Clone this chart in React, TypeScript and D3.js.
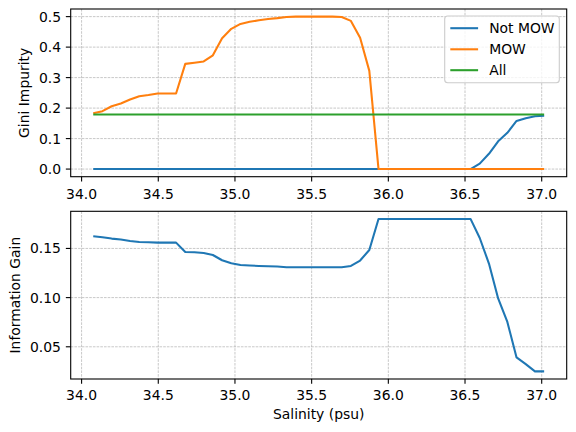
import React from "react";
import * as d3 from "d3";

const salinity = [
  34.076, 34.136, 34.196, 34.256, 34.316, 34.376, 34.436, 34.496, 34.556, 34.616,
  34.676, 34.736, 34.796, 34.856, 34.916, 34.976, 35.036, 35.096, 35.156, 35.216,
  35.276, 35.336, 35.396, 35.456, 35.516, 35.576, 35.636, 35.696, 35.756, 35.816,
  35.876, 35.936, 35.996, 36.056, 36.116, 36.176, 36.236, 36.296, 36.356, 36.416,
  36.476, 36.536, 36.596, 36.656, 36.716, 36.776, 36.836, 36.896, 36.956, 37.016,
];

const giniNotMOW = [
  0, 0, 0, 0, 0, 0, 0, 0, 0, 0,
  0, 0, 0, 0, 0, 0, 0, 0, 0, 0,
  0, 0, 0, 0, 0, 0, 0, 0, 0, 0,
  0, 0, 0, 0, 0, 0, 0, 0, 0, 0,
  0, 0, 0.018, 0.05, 0.091, 0.119, 0.158, 0.167, 0.173, 0.175,
];

const giniMOW = [
  0.183, 0.19, 0.206, 0.215, 0.228, 0.239, 0.243, 0.248, 0.248, 0.248,
  0.345, 0.349, 0.353, 0.373, 0.429, 0.46, 0.476, 0.483, 0.488, 0.492,
  0.495, 0.499, 0.5, 0.5, 0.5, 0.5, 0.5, 0.499, 0.486, 0.431,
  0.322, 0, 0, 0, 0, 0, 0, 0, 0, 0,
  0, 0, 0, 0, 0, 0, 0, 0, 0, 0,
];

const giniAll = 0.179;

const infoGain = [
  0.1623, 0.1613, 0.16, 0.159, 0.1576, 0.1565, 0.1562, 0.1559, 0.1559, 0.1559,
  0.1464, 0.1461, 0.1454, 0.1433, 0.138, 0.1349, 0.1332, 0.1326, 0.1322, 0.1319,
  0.1316, 0.1309, 0.1309, 0.1309, 0.1309, 0.1309, 0.1309, 0.1309, 0.1322, 0.1377,
  0.1484, 0.18, 0.18, 0.18, 0.18, 0.18, 0.18, 0.18, 0.18, 0.18,
  0.18, 0.18, 0.1606, 0.1346, 0.0991, 0.0753, 0.0392, 0.0324, 0.025, 0.025,
];

const xTicks = [34.0, 34.5, 35.0, 35.5, 36.0, 36.5, 37.0];
const topYTicks = [0.0, 0.1, 0.2, 0.3, 0.4, 0.5];
const bottomYTicks = [0.05, 0.1, 0.15];
const legendLabels = ["Not MOW", "MOW", "All"];
const colors = ["#1f77b4", "#ff7f0e", "#2ca02c"];

const W = 576;
const H = 432;
const LEFT = 70.7;
const RIGHT = 566.7;
const TOP1 = 9;
const BOT1 = 176.7;
const TOP2 = 211.3;
const BOT2 = 379;
const FONT = "DejaVu Sans, sans-serif";
const FS = 13.9;
const LW = 2.08;
const TICK = 4.86;

function padDomain(lo: number, hi: number): [number, number] {
  const m = (hi - lo) * 0.05;
  return [lo - m, hi + m];
}

function Panel(props: {
  id: string;
  top: number;
  bottom: number;
  labelBase: number;
  yScale: d3.ScaleLinear<number, number>;
  x: d3.ScaleLinear<number, number>;
  yTicks: number[];
  yFmt: (v: number) => string;
  children?: React.ReactNode;
}) {
  const { id, top, bottom, labelBase, yScale, x, yTicks, yFmt } = props;
  return (
    <g>
      {xTicks.map((t) => (
        <line key={"gx" + t} x1={x(t)} x2={x(t)} y1={top} y2={bottom}
          stroke="#b0b0b0" strokeWidth={0.7} strokeDasharray="2.6,1.1" />
      ))}
      {yTicks.map((t) => (
        <line key={"gy" + t} x1={LEFT} x2={RIGHT} y1={yScale(t)} y2={yScale(t)}
          stroke="#b0b0b0" strokeWidth={0.7} strokeDasharray="2.6,1.1" />
      ))}
      <clipPath id={id}>
        <rect x={LEFT} y={top} width={RIGHT - LEFT} height={bottom - top} />
      </clipPath>
      <g clipPath={`url(#${id})`}>{props.children}</g>
      <rect x={LEFT} y={top} width={RIGHT - LEFT} height={bottom - top}
        fill="none" stroke="#000" strokeWidth={1.1} />
      {xTicks.map((t) => (
        <g key={"tx" + t}>
          <line x1={x(t)} x2={x(t)} y1={bottom} y2={bottom + TICK} stroke="#000" strokeWidth={1.1} />
          <text x={x(t)} y={labelBase} textAnchor="middle" fontFamily={FONT} fontSize={FS} fill="#000">
            {t.toFixed(1)}
          </text>
        </g>
      ))}
      {yTicks.map((t) => (
        <g key={"ty" + t}>
          <line x1={LEFT - TICK} x2={LEFT} y1={yScale(t)} y2={yScale(t)} stroke="#000" strokeWidth={1.1} />
          <text x={LEFT - 2 * TICK} y={yScale(t)} dy="0.36em" textAnchor="end" fontFamily={FONT} fontSize={FS} fill="#000">
            {yFmt(t)}
          </text>
        </g>
      ))}
    </g>
  );
}

export default function App() {
  const xDom = padDomain(d3.min(salinity)!, d3.max(salinity)!);
  const x = d3.scaleLinear().domain(xDom).range([LEFT, RIGHT]);

  const topMin = Math.min(d3.min(giniNotMOW)!, d3.min(giniMOW)!, giniAll);
  const topMax = Math.max(d3.max(giniNotMOW)!, d3.max(giniMOW)!, giniAll);
  const y1 = d3.scaleLinear().domain(padDomain(topMin, topMax)).range([BOT1, TOP1]);
  const y2 = d3.scaleLinear().domain(padDomain(d3.min(infoGain)!, d3.max(infoGain)!)).range([BOT2, TOP2]);

  const line1 = d3.line<number>().x((_, i) => x(salinity[i])).y((d) => y1(d));
  const line2 = d3.line<number>().x((_, i) => x(salinity[i])).y((d) => y2(d));

  const xFirst = salinity[0];
  const xLast = salinity[salinity.length - 1];

  const lgX = 444.7;
  const lgY = 16;
  const lgW = 114.6;
  const lgH = 66.7;
  const rowY = [28.2, 49.3, 70.2];

  return (
    <svg width={W} height={H} style={{ position: "absolute", left: 0, top: 0, background: "#fff" }}>
      <rect x={0} y={0} width={W} height={H} fill="#fff" />
      <Panel id="clipTop" top={TOP1} bottom={BOT1} labelBase={199.3} yScale={y1} x={x} yTicks={topYTicks} yFmt={(v) => v.toFixed(1)}>
        <path d={line1(giniNotMOW)!} fill="none" stroke={colors[0]} strokeWidth={LW} strokeLinejoin="round" />
        <path d={line1(giniMOW)!} fill="none" stroke={colors[1]} strokeWidth={LW} strokeLinejoin="round" />
        <line x1={x(xFirst)} x2={x(xLast)} y1={y1(giniAll)} y2={y1(giniAll)} stroke={colors[2]} strokeWidth={LW} />
      </Panel>
      <Panel id="clipBottom" top={TOP2} bottom={BOT2} labelBase={399.5} yScale={y2} x={x} yTicks={bottomYTicks} yFmt={(v) => v.toFixed(2)}>
        <path d={line2(infoGain)!} fill="none" stroke={colors[0]} strokeWidth={LW} strokeLinejoin="round" />
      </Panel>

      <g>
        <rect x={lgX} y={lgY} width={lgW} height={lgH} rx={3} ry={3}
          fill="#fff" fillOpacity={0.8} stroke="#cccccc" strokeWidth={1.1} />
        {legendLabels.map((lab, i) => (
          <g key={lab}>
            <line x1={450.3} x2={478.1} y1={rowY[i]} y2={rowY[i]} stroke={colors[i]} strokeWidth={LW} />
            <text x={489.2} y={rowY[i]} dy="0.36em" fontFamily={FONT} fontSize={FS} fill="#000">{lab}</text>
          </g>
        ))}
      </g>

      <text x={(LEFT + RIGHT) / 2} y={419} textAnchor="middle" fontFamily={FONT} fontSize={FS} fill="#000">
        Salinity (psu)
      </text>
      <text transform={`translate(29,${(TOP1 + BOT1) / 2}) rotate(-90)`} textAnchor="middle"
        fontFamily={FONT} fontSize={FS} fill="#000">
        Gini Impurity
      </text>
      <text transform={`translate(20,${(TOP2 + BOT2) / 2}) rotate(-90)`} textAnchor="middle"
        fontFamily={FONT} fontSize={FS} fill="#000">
        Information Gain
      </text>
    </svg>
  );
}
